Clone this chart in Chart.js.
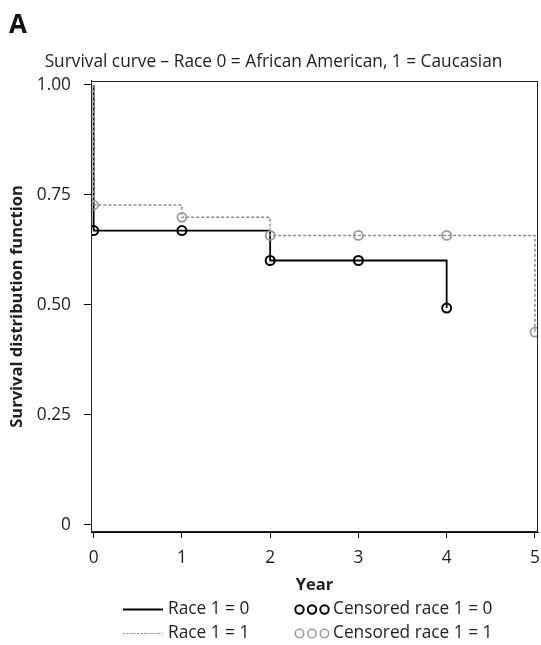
<!DOCTYPE html>
<html>
<head>
<meta charset="utf-8">
<script src="https://cdn.jsdelivr.net/npm/chart.js@4"></script>
<style>
html,body{margin:0;padding:0;background:#fff;}
#wrap{width:541px;height:645px;}
</style>
</head>
<body>
<div id="wrap"><canvas id="c" width="541" height="645"></canvas></div>
<script>
// ---- data ----
const years = [0, 1, 2, 3, 4, 5];
const yTicks = [0, 0.25, 0.5, 0.75, 1];
const yTickLabels = ['0', '0.25', '0.50', '0.75', '1.00'];

// Kaplan-Meier step curves
const race0Times = [0, 0, 2, 4];
const race0Surv  = [1, 0.669, 0.601, 0.493];
const race1Times = [0, 0, 1, 2, 5];
const race1Surv  = [1, 0.727, 0.699, 0.658, 0.438];

// censored marks
const cens0Times = [0, 1, 2, 3, 4];
const cens0Surv  = [0.669, 0.669, 0.601, 0.601, 0.493];
const cens1Times = [0, 1, 2, 3, 4, 5];
const cens1Surv  = [0.727, 0.699, 0.658, 0.658, 0.658, 0.438];

const seriesLabels = ['Race 1 = 0', 'Race 1 = 1', 'Censored race 1 = 0', 'Censored race 1 = 1'];
const titleText = 'Survival curve \u2013 Race 0 = African American, 1 = Caucasian';
const panelLabel = 'A';
const xTitle = 'Year';
const yTitle = 'Survival distribution function';

const toXY = (xs, ys) => xs.map((x, i) => ({x: x, y: ys[i]}));
const TXT = '#1e1e1e';
const FAM = "'Open Sans'";
Chart.defaults.font.family = FAM;

const framePlugin = {
  id: 'frame',
  afterDatasetsDraw(chart) {
    const {ctx, chartArea: a} = chart;
    ctx.save();
    ctx.strokeStyle = '#222';
    ctx.lineWidth = 1;
    ctx.strokeRect(Math.round(a.left) + 0.5, Math.round(a.top) + 0.5,
                   Math.round(a.right) - Math.round(a.left) - 1, Math.round(a.bottom) - Math.round(a.top) - 1);
    ctx.restore();
  }
};

const legendPlugin = {
  id: 'kmLegend',
  afterDraw(chart) {
    const ctx = chart.ctx;
    const ds = chart.data.datasets;
    ctx.save();
    ctx.font = '17.3px ' + FAM;
    ctx.textBaseline = 'middle';
    ctx.textAlign = 'left';
    const rows = [[ds[0], ds[2]], [ds[1], ds[3]]];
    const rowY = [609, 633];
    rows.forEach((r, i) => {
      const y = rowY[i] + 0.5;
      const ln = r[0];
      ctx.strokeStyle = ln.borderColor;
      ctx.lineWidth = i === 0 ? 1.8 : 1;
      ctx.setLineDash(i === 0 ? [] : [2, 1.5]);
      ctx.beginPath(); ctx.moveTo(123, y); ctx.lineTo(163, y); ctx.stroke();
      ctx.setLineDash([]);
      ctx.fillStyle = TXT;
      ctx.fillText(ln.label, 168, y);
      const c = r[1];
      ctx.strokeStyle = c.pointBorderColor;
      ctx.lineWidth = i === 0 ? 2 : 1.5;
      for (let k = 0; k < 3; k++) {
        ctx.beginPath(); ctx.arc(299.5 + k * 12.5, y, 4.2, 0, Math.PI * 2); ctx.stroke();
      }
      ctx.fillText(c.label, 333, y);
    });
    ctx.restore();
  }
};

function noSidePad(s) {
  s.paddingLeft = 0; s.paddingRight = 0;
}

new Chart(document.getElementById('c'), {
  type: 'scatter',
  data: {
    datasets: [
      { label: seriesLabels[0], data: toXY(race0Times, race0Surv), showLine: true, stepped: 'before',
        borderColor: '#000', borderWidth: 1.8, pointRadius: 0, pointHoverRadius: 0, order: 3 },
      { label: seriesLabels[1], data: toXY(race1Times, race1Surv), showLine: true, stepped: 'before',
        borderColor: '#8a8a8a', borderWidth: 1.5, borderDash: [3, 2], pointRadius: 0, pointHoverRadius: 0, order: 2 },
      { label: seriesLabels[2], data: toXY(cens0Times, cens0Surv), showLine: false,
        pointRadius: 4.5, pointBorderWidth: 2, pointBorderColor: '#000', pointBackgroundColor: 'rgba(0,0,0,0)', order: 1 },
      { label: seriesLabels[3], data: toXY(cens1Times, cens1Surv), showLine: false,
        pointRadius: 4.5, pointBorderWidth: 1.8, pointBorderColor: '#999', pointBackgroundColor: 'rgba(0,0,0,0)', order: 0 }
    ]
  },
  options: {
    responsive: false,
    animation: false,
    events: [],
    devicePixelRatio: 1,
    layout: { autoPadding: false, padding: { left: 9, right: 3, top: 0, bottom: 50 } },
    plugins: {
      legend: { display: false },
      tooltip: { enabled: false },
      title: { display: true, text: panelLabel, align: 'start', color: '#111',
               font: { size: 26, weight: 'bold' }, padding: { top: 10, bottom: 0 } },
      subtitle: { display: true, text: titleText, color: TXT,
                  font: { size: 17.3 }, padding: { top: 10.5, bottom: 8.5 } }
    },
    scales: {
      x: {
        type: 'linear', min: -0.03, max: 5.035,
        afterBuildTicks: s => { s.ticks = years.map(v => ({value: v})); },
        afterFit: s => { s.height = 63; noSidePad(s); },
        ticks: { color: TXT, font: { size: 17.3 }, padding: 10, autoSkip: false, maxRotation: 0,
                 callback: v => String(v) },
        grid: { display: true, drawOnChartArea: false, drawTicks: true, tickLength: 6, color: '#000' },
        border: { display: true, color: '#000', width: 1 },
        title: { display: true, text: xTitle, color: TXT, font: { size: 16.5, weight: 'bold' }, padding: 0 }
      },
      y: {
        type: 'linear', min: -0.016, max: 1.009,
        afterBuildTicks: s => { s.ticks = yTicks.map(v => ({value: v})); },
        afterFit: s => { s.width = 82; s.paddingTop = 0; s.paddingBottom = 0; },
        ticks: { color: TXT, font: { size: 17.3 }, padding: 13, autoSkip: false,
                 callback: v => yTickLabels[yTicks.indexOf(v)] },
        grid: { display: true, drawOnChartArea: false, drawTicks: true, tickLength: 7, color: '#000' },
        border: { display: true, color: '#000', width: 1 },
        title: { display: true, text: yTitle, color: TXT, font: { size: 16.5, weight: 'bold', lineHeight: 1 }, padding: 0 }
      }
    }
  },
  plugins: [framePlugin, legendPlugin]
});
</script>
</body>
</html>
